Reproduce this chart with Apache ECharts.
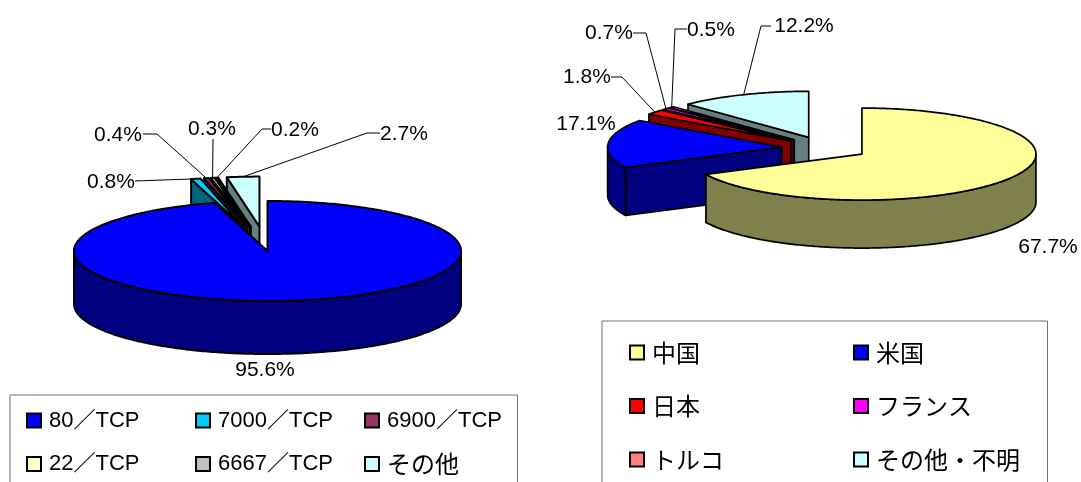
<!DOCTYPE html>
<html>
<head>
<meta charset="utf-8">
<script src="https://cdn.jsdelivr.net/npm/echarts@6/dist/echarts.min.js"></script>
<style>
  html, body { margin: 0; padding: 0; background: #fff; }
  #chart { width: 1081px; height: 482px; }
</style>
</head>
<body>
<div id="chart"></div>
<script>
// Share of traffic by destination port (%)
const portCategories = ['80／TCP', '7000／TCP', '6900／TCP', '22／TCP', '6667／TCP', 'その他'];
const portShares = [95.6, 0.8, 0.4, 0.3, 0.2, 2.7];

// Share of traffic by source country (%)
const countryCategories = ['中国', '米国', '日本', 'フランス', 'トルコ', 'その他・不明'];
const countryShares = [67.7, 17.1, 1.8, 0.7, 0.5, 12.2];

// Fill colours for the slice tops; the side walls use a half-brightness shade
const portColors = ['#0000FF', '#00CCFF', '#993366', '#FFFFCC', '#C0C0C0', '#CCFFFF'];
const countryColors = ['#FFFF99', '#0000FF', '#FF0000', '#FF00FF', '#FF8080', '#CCFFFF'];

const LABEL_FONT = '21px "Liberation Sans", Arial, sans-serif';
const LEGEND_FONT = '"Liberation Sans", "Noto Sans CJK JP", sans-serif';
const CJK_FONT = '"Noto Sans CJK JP", sans-serif';

// Geometry of each tilted pie: ellipse centre/radii, wall height, explosion
// per slice (fraction of the radius) and label placement with leader elbows.
const portLayout = {
  cx: 267.5, cy: 251, rx: 193.5, ry: 50, depth: 53, lineWidth: 2,
  explode: [0, 0.49, 0.49, 0.49, 0.49, 0.49],
  labels: [
    { pos: [265, 370], path: null },
    { pos: [111, 182], path: [[135, 181]] },
    { pos: [118, 135], path: [[143, 134], [157, 134]] },
    { pos: [212, 129], path: [[213, 139]] },
    { pos: [295, 130], path: [[271, 129], [262, 129]] },
    { pos: [404, 134], path: [[380, 133], [367, 133]] }
  ]
};

const countryLayout = {
  cx: 825, cy: 148, rx: 174, ry: 46, depth: 48, lineWidth: 1.7,
  explode: [0.25, 0.25, 0.25, 0.25, 0.25, 0.25],
  labels: [
    { pos: [1048, 247], path: null },
    { pos: [586, 124], path: null },
    { pos: [587, 77], path: [[611, 77], [622, 77]] },
    { pos: [609, 33], path: [[633, 33], [646, 33]] },
    { pos: [711, 30], path: [[687, 29], [675, 29]] },
    { pos: [804, 26], path: [[771, 26], [761, 26]] }
  ]
};

function shade(hex) {
  const n = parseInt(hex.slice(1), 16);
  const r = Math.round(((n >> 16) & 255) / 2);
  const g = Math.round(((n >> 8) & 255) / 2);
  const b = Math.round((n & 255) / 2);
  return 'rgb(' + r + ',' + g + ',' + b + ')';
}

// Angles run clockwise from 12 o'clock, in radians
function sliceAngles(values, idx, value) {
  const total = values.reduce((a, b) => a + b, 0);
  let acc = 0;
  for (let i = 0; i < idx; i++) acc += values[i];
  return [acc / total * 2 * Math.PI, (acc + value) / total * 2 * Math.PI];
}

function explodeOffset(L, idx, s, e) {
  const m = (s + e) / 2, d = L.explode[idx];
  return [d * L.rx * Math.sin(m), -d * L.ry * Math.cos(m)];
}

function pt(L, off, a, r, h) {
  return [L.cx + off[0] + r * L.rx * Math.sin(a), L.cy + off[1] - r * L.ry * Math.cos(a) + h];
}

function arc(L, off, a0, a1, h) {
  const n = Math.max(2, Math.ceil(Math.abs(a1 - a0) / (Math.PI / 240)));
  const pts = [];
  for (let i = 0; i <= n; i++) pts.push(pt(L, off, a0 + (a1 - a0) * i / n, 1, h));
  return pts;
}

function makeRenderer(values, colors, L, idx) {
  return function (params, api) {
    const v = api.value(0);
    const [s, e] = sliceAngles(values, idx, v);
    const off = explodeOffset(L, idx, s, e);
    const top = colors[idx], side = shade(colors[idx]);
    const st = fill => ({ fill: fill, stroke: '#000', lineWidth: L.lineWidth, lineJoin: 'round' });
    const apexT = pt(L, off, 0, 0, 0), apexB = pt(L, off, 0, 0, L.depth);
    const children = [];

    // cut wall on the start radius, seen when it faces the viewer
    if (Math.sin(s) < -1e-9) {
      children.push({ type: 'polygon', shape: { points: [apexT, pt(L, off, s, 1, 0), pt(L, off, s, 1, L.depth), apexB] }, style: st(side) });
    }
    // cut wall on the end radius
    if (Math.sin(e) > 1e-9) {
      children.push({ type: 'polygon', shape: { points: [apexT, pt(L, off, e, 1, 0), pt(L, off, e, 1, L.depth), apexB] }, style: st(side) });
    }
    // outer rim, front half only
    const a = Math.max(s, Math.PI / 2), b = Math.min(e, Math.PI * 1.5);
    if (b > a) {
      const rim = arc(L, off, a, b, 0).concat(arc(L, off, b, a, L.depth));
      children.push({ type: 'polygon', shape: { points: rim }, style: st(side) });
    }
    // top face
    children.push({ type: 'polygon', shape: { points: [apexT].concat(arc(L, off, s, e, 0)) }, style: st(top) });

    // value label with its leader line
    const lab = L.labels[idx];
    if (lab.path) {
      const anchor = pt(L, off, (s + e) / 2, 1, 0);
      children.push({ type: 'polyline', shape: { points: lab.path.concat([anchor]) }, style: { stroke: '#000', lineWidth: 1, fill: null }, z2: 10 });
    }
    children.push({
      type: 'text', z2: 11,
      style: { text: v.toFixed(1) + '%', x: lab.pos[0], y: lab.pos[1], align: 'center', verticalAlign: 'middle', fill: '#000', font: LABEL_FONT }
    });
    return { type: 'group', children: children };
  };
}

// Back-to-front painting order from each slice's exploded apex depth
function buildSeries(categories, values, colors, L) {
  const depthKey = values.map((v, i) => {
    const [s, e] = sliceAngles(values, i, v);
    return { i: i, y: explodeOffset(L, i, s, e)[1] };
  }).sort((p, q) => p.y - q.y);
  const rank = {};
  depthKey.forEach((k, r) => { rank[k.i] = r; });
  return categories.map((name, i) => ({
    type: 'custom',
    name: name,
    coordinateSystem: 'none',
    z: 2 + rank[i],
    itemStyle: { color: colors[i] },
    data: [[values[i]]],
    renderItem: makeRenderer(values, colors, L, i)
  }));
}

// Kana and kanji in legend names are set a little larger than the Latin text
function legendFormatter(name) {
  return name.replace(/([\u3040-\u30ff\u4e00-\u9fff]+)/g, '{j|$1}');
}

const legendBase = {
  orient: 'horizontal',
  icon: 'rect',
  itemWidth: 14,
  itemHeight: 14,
  itemStyle: { borderColor: '#000', borderWidth: 2 },
  borderColor: '#6f6f6f',
  borderWidth: 1,
  backgroundColor: '#fff',
  selectedMode: false,
  formatter: legendFormatter
};

const chart = echarts.init(document.getElementById('chart'), null, { renderer: 'canvas' });
chart.setOption({
  animation: false,
  backgroundColor: '#fff',
  legend: [
    Object.assign({}, legendBase, {
      data: portCategories,
      left: 10, top: 395, width: 490,
      padding: [13, 3, 60, 16],
      itemGap: 18.5,
      textStyle: {
        fontSize: 22, fontFamily: LEGEND_FONT, color: '#000', width: 127.5, lineHeight: 25, padding: [0, 0, 0, 3],
        rich: { j: { fontSize: 24, fontFamily: CJK_FONT, lineHeight: 25 } }
      }
    }),
    Object.assign({}, legendBase, {
      data: countryCategories,
      left: 602, top: 321, width: 420,
      padding: [19.5, 0, 60, 27],
      itemGap: 29.5,
      textStyle: {
        fontSize: 22, fontFamily: LEGEND_FONT, color: '#000', width: 171.5, lineHeight: 17, padding: [0, 0, 0, 3],
        rich: { j: { fontSize: 24, fontFamily: CJK_FONT, lineHeight: 17 } }
      }
    })
  ],
  series: buildSeries(portCategories, portShares, portColors, portLayout)
    .concat(buildSeries(countryCategories, countryShares, countryColors, countryLayout))
});
</script>
</body>
</html>
